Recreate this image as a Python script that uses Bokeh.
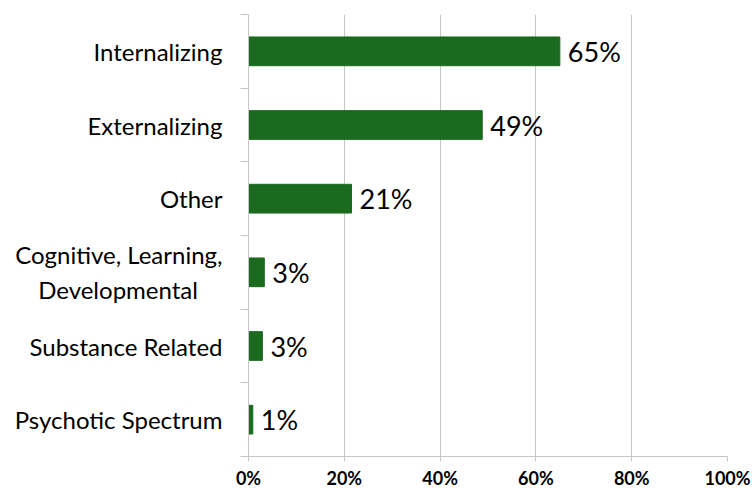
from bokeh.plotting import figure
from bokeh.models import Range1d, FixedTicker, ColumnDataSource, NumeralTickFormatter
from bokeh.core.properties import value
from bokeh.embed import file_html
from bokeh.resources import INLINE

categories = ["Internalizing", "Externalizing", "Other",
              "Cognitive, Learning,\nDevelopmental\u00a0\u00a0\u00a0\u00a0",
              "Substance Related", "Psychotic Spectrum"]
values = [65.0, 48.8, 21.5, 3.3, 2.9, 0.9]
labels = ["65%", "49%", "21%", "3%", "3%", "1%"]
x_ticks = [0, 20, 40, 60, 80, 100]

n = len(categories)
centers = [n - i - 0.5 for i in range(n)]
bounds = list(range(n + 1))

src = ColumnDataSource(dict(cat=categories, v=values, y=centers, lab=labels))

p = figure(width=752, height=491, output_backend="svg", toolbar_location=None,
           x_range=Range1d(0, 100), y_range=Range1d(0, n),
           min_border_left=248, min_border_right=25, min_border_top=14, min_border_bottom=32)
p.outline_line_color = None
p.background_fill_color = "white"

p.hbar(y="y", right="v", left=0, height=0.39, source=src, color="#1b6b1f")
p.text(x="v", y="y", text="lab", source=src, x_offset=8, text_baseline="middle",
       text_align="left", text_font=value("Lato"), text_font_size="27px", text_color="black")

grid_color = "#c6c6c6"
p.xaxis.ticker = FixedTicker(ticks=x_ticks)
p.xaxis.formatter = NumeralTickFormatter(format="0")
p.xaxis.major_label_overrides = {t: f"{t}%" for t in x_ticks}
p.xaxis.major_label_text_font = "Lato"
p.xaxis.major_label_text_font_style = "bold"
p.xaxis.major_label_text_font_size = "18px"
p.xaxis.major_label_text_color = "black"
p.xaxis.major_label_standoff = 5
p.xaxis.axis_line_color = grid_color
p.xaxis.major_tick_line_color = grid_color
p.xaxis.major_tick_out = 5
p.xaxis.major_tick_in = 0
p.xaxis.minor_tick_line_color = None

p.yaxis.ticker = FixedTicker(ticks=centers, minor_ticks=bounds)
p.yaxis.major_label_overrides = {c: cat for c, cat in zip(centers, categories)}
p.yaxis.major_label_text_font = "Lato"
p.yaxis.major_label_text_font_size = "24px"
p.yaxis.major_label_text_color = "black"
p.yaxis.major_label_standoff = 18
p.yaxis.major_tick_line_color = None
p.yaxis.major_tick_out = 0
p.yaxis.major_tick_in = 0
p.yaxis.minor_tick_line_color = grid_color
p.yaxis.minor_tick_out = 8
p.yaxis.minor_tick_in = 0
p.yaxis.axis_line_color = grid_color

p.xgrid.ticker = FixedTicker(ticks=x_ticks)
p.xgrid.grid_line_color = grid_color
p.ygrid.grid_line_color = None

open("out.html", "w").write(file_html(p, INLINE))
